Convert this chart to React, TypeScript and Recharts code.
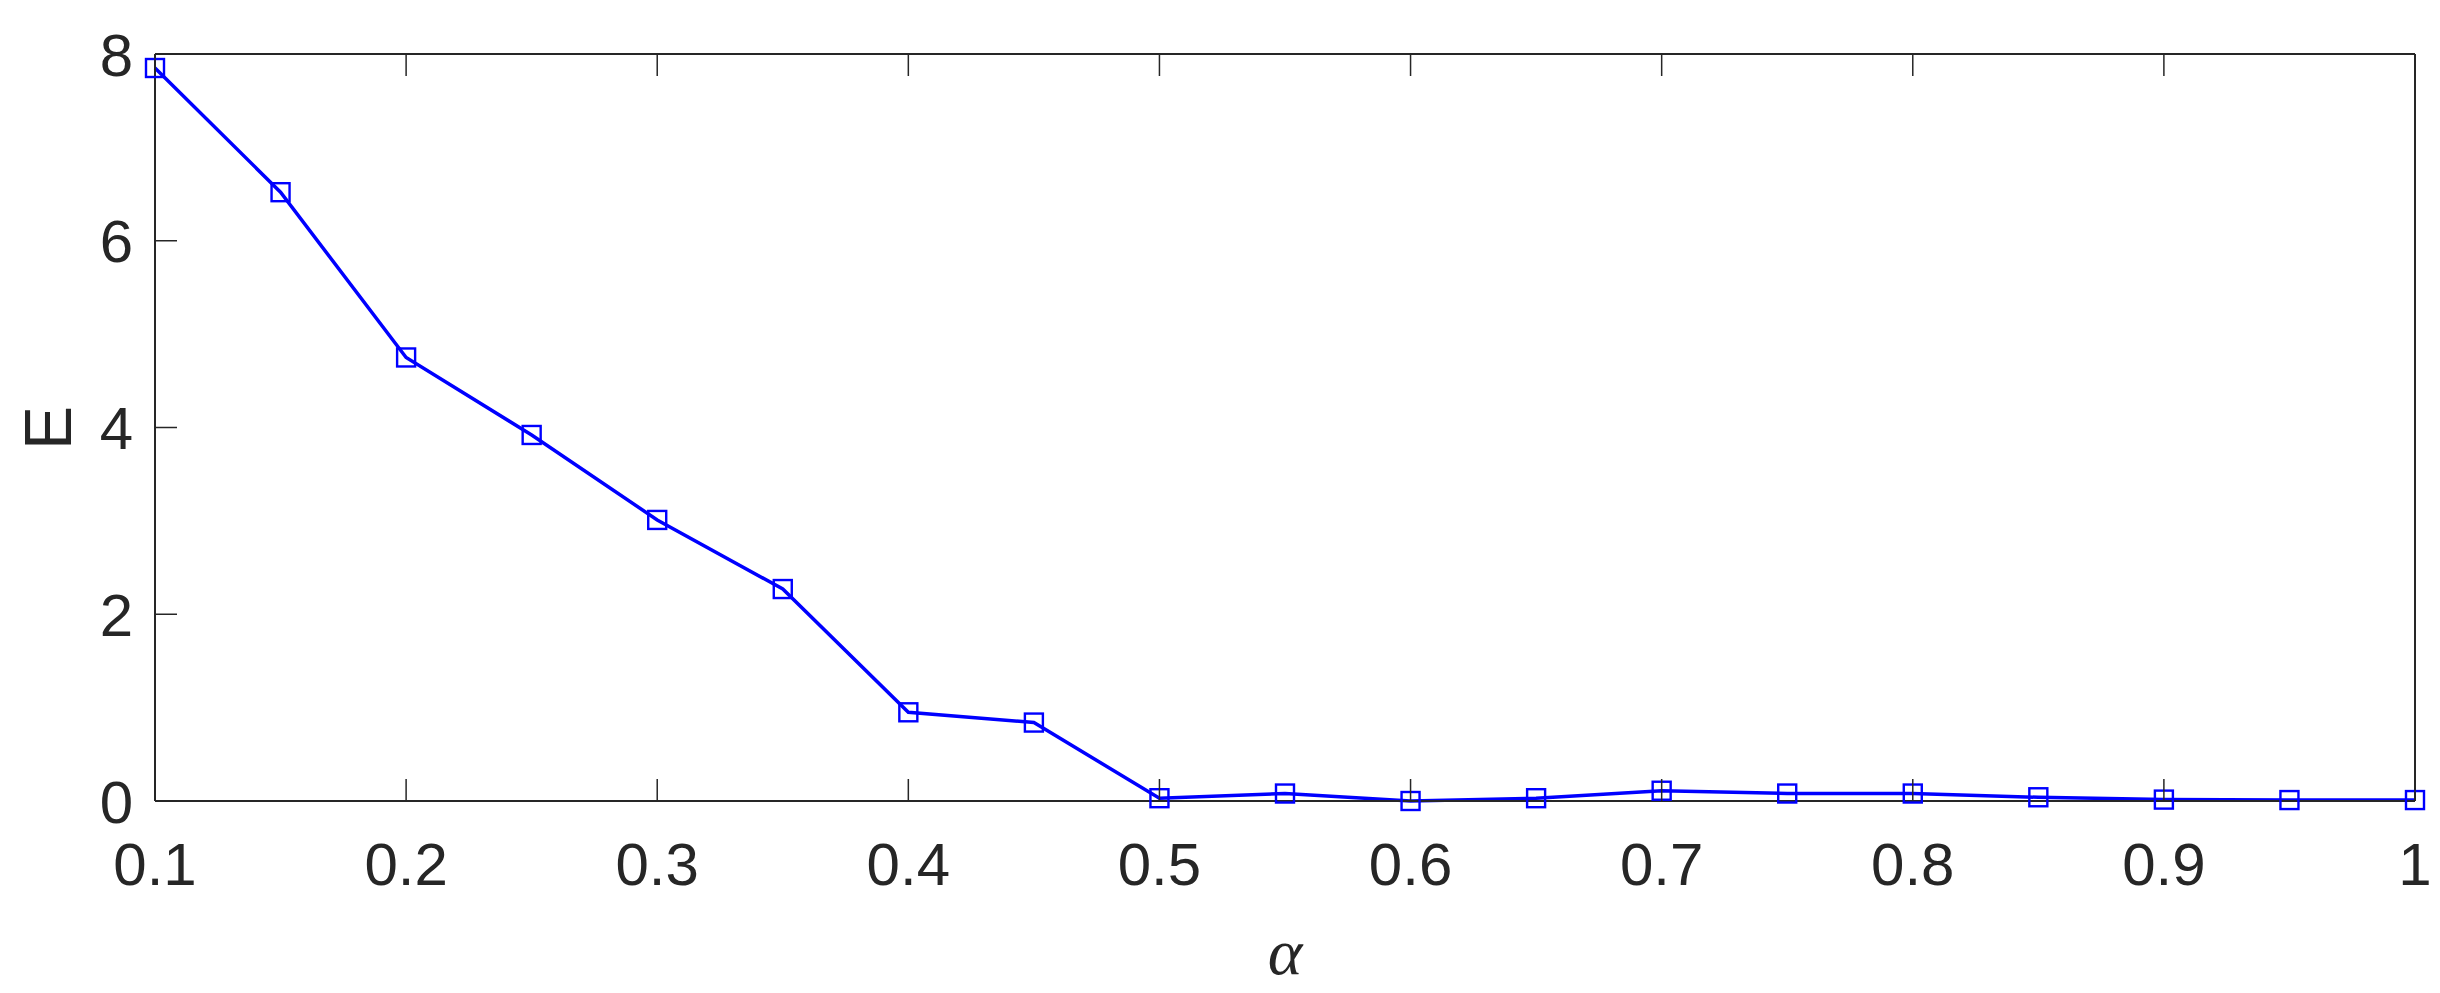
import { Line, LineChart, XAxis, YAxis } from "recharts";

const ALPHA = [0.1, 0.15, 0.2, 0.25, 0.3, 0.35, 0.4, 0.45, 0.5, 0.55, 0.6, 0.65, 0.7, 0.75, 0.8, 0.85, 0.9, 0.95, 1.0];
const ENERGY = [7.85, 6.52, 4.75, 3.92, 3.01, 2.27, 0.95, 0.84, 0.03, 0.08, 0.0, 0.03, 0.11, 0.08, 0.08, 0.04, 0.015, 0.01, 0.01];

const X_TICKS = [0.1, 0.2, 0.3, 0.4, 0.5, 0.6, 0.7, 0.8, 0.9, 1];
const Y_TICKS = [0, 2, 4, 6, 8];

const data = ALPHA.map((a, i) => ({ alpha: a, E: ENERGY[i] }));

const AXIS = "#262626";
const BLUE = "#0000ff";
const TICK_LEN = 22;
const FONT = "'Liberation Sans', Arial, Helvetica, sans-serif";

const fmt = (v: number) => String(Number(v.toFixed(2)));

function BottomTick({ x, y, payload }: any) {
  return (
    <g>
      <line x1={x} x2={x} y1={y} y2={y - TICK_LEN} stroke={AXIS} strokeWidth={1.5} />
      <text x={x} y={y + 84} textAnchor="middle" fontFamily={FONT} fontSize={60} fill={AXIS}>
        {fmt(payload.value)}
      </text>
    </g>
  );
}

function TopTick({ x, y }: any) {
  return <line x1={x} x2={x} y1={y} y2={y + TICK_LEN} stroke={AXIS} strokeWidth={1.5} />;
}

function LeftTick({ x, y, payload }: any) {
  return (
    <g>
      <line x1={x} x2={x + TICK_LEN} y1={y} y2={y} stroke={AXIS} strokeWidth={1.5} />
      <text x={x - 22} y={y} dy="0.36em" textAnchor="end" fontFamily={FONT} fontSize={60} fill={AXIS}>
        {payload.value}
      </text>
    </g>
  );
}

function RightTick({ x, y }: any) {
  return <line x1={x} x2={x - TICK_LEN} y1={y} y2={y} stroke={AXIS} strokeWidth={1.5} />;
}

function SquareDot({ cx, cy }: any) {
  if (cx == null || cy == null) return null;
  return <rect x={cx - 9} y={cy - 9} width={18} height={18} fill="none" stroke={BLUE} strokeWidth={2.4} />;
}

const axisLine = { stroke: AXIS, strokeWidth: 2 };

export default function App() {
  return (
    <div style={{ position: "absolute", left: 0, top: 0, width: 2440, height: 993, background: "#fff" }}>
      <LineChart
        width={2440}
        height={993}
        data={data}
        margin={{ top: 53, right: 24, bottom: 191, left: 154 }}
      >
        <XAxis
          dataKey="alpha"
          type="number"
          domain={[0.1, 1]}
          ticks={X_TICKS}
          height={1}
          tickSize={0}
          tickMargin={0}
          tickLine={false}
          axisLine={axisLine}
          tick={(p: any) => <BottomTick {...p} />}
          interval={0}
        />
        <XAxis
          xAxisId="top"
          orientation="top"
          dataKey="alpha"
          type="number"
          domain={[0.1, 1]}
          ticks={X_TICKS}
          height={1}
          tickSize={0}
          tickMargin={0}
          tickLine={false}
          axisLine={axisLine}
          tick={(p: any) => <TopTick {...p} />}
          interval={0}
        />
        <YAxis
          type="number"
          domain={[0, 8]}
          ticks={Y_TICKS}
          width={1}
          tickSize={0}
          tickMargin={0}
          tickLine={false}
          axisLine={axisLine}
          tick={(p: any) => <LeftTick {...p} />}
          interval={0}
        />
        <YAxis
          yAxisId="right"
          orientation="right"
          type="number"
          domain={[0, 8]}
          ticks={Y_TICKS}
          width={1}
          tickSize={0}
          tickMargin={0}
          tickLine={false}
          axisLine={axisLine}
          tick={(p: any) => <RightTick {...p} />}
          interval={0}
        />
        <Line
          dataKey="E"
          stroke={BLUE}
          strokeWidth={3.5}
          dot={(p: any) => <SquareDot key={p.index} {...p} />}
          activeDot={false}
          isAnimationActive={false}
        />
        {/* axis titles */}
        <text
          x={47}
          y={428}
          dy="0.36em"
          transform="rotate(-90, 47, 428)"
          textAnchor="middle"
          fontFamily={FONT}
          fontSize={66}
          fill={AXIS}
        >
          E
        </text>
        <text
          x={1285}
          y={974}
          textAnchor="middle"
          fontFamily="'Liberation Serif', 'Times New Roman', serif"
          fontStyle="italic"
          fontSize={66}
          fill={AXIS}
        >
          α
        </text>
      </LineChart>
    </div>
  );
}
